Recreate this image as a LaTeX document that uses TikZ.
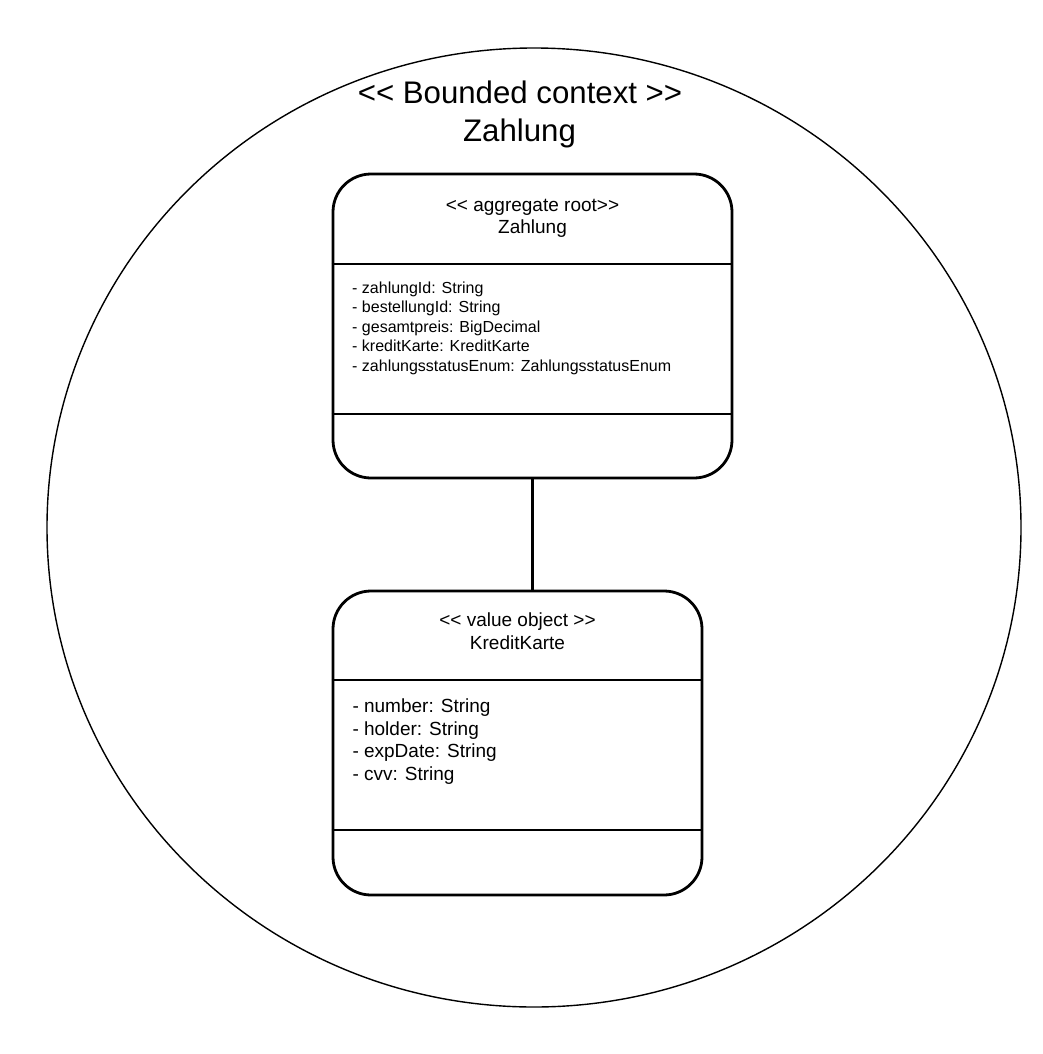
\documentclass[tikz,border=0pt]{standalone}
\usepackage{fontspec}
\setmainfont{Liberation Sans}
\usetikzlibrary{shapes.geometric}
\newcommand\dlt{<\kern0pt<}
\newcommand\dgt{>\kern0pt>}
\begin{document}
\begin{tikzpicture}[x=1pt,y=-1pt,
  ctxshape/.style={draw, ellipse, line width=1.4pt, inner sep=0pt},
  umlbox/.style={draw, line width=2.8pt, rounded corners=38pt, inner sep=0pt, minimum height=304pt},
  divider/.style={line width=2.6pt},
  link/.style={line width=2.6pt},
  bigtitle/.style={anchor=base, inner sep=0pt, font=\fontsize{31.2}{36}\selectfont},
  boxtitle/.style={anchor=base, inner sep=0pt, font=\fontsize{19}{22}\selectfont},
  attrsmall/.style={anchor=base west, inner sep=0pt, font=\fontsize{16}{19}\selectfont},
  attrbig/.style={anchor=base west, inner sep=0pt, font=\fontsize{19}{22}\selectfont}]
\useasboundingbox (0,0) rectangle (1043,1054);

% bounded context
\node[ctxshape, minimum width=974pt, minimum height=959pt] (ctx) at (534,527.5) {};
\node[bigtitle] (ctxt1) at (520,104) {\dlt{} Bounded context \dgt};
\node[bigtitle] (ctxt2) at (519.5,141.5) {Zahlung};

% aggregate root box
\node[umlbox, minimum width=399pt] (zb) at (532.5,326) {};
\draw[divider] (zb.west |- 0,264) -- (zb.east |- 0,264);
\draw[divider] (zb.west |- 0,414) -- (zb.east |- 0,414);
\node[boxtitle] (zt1) at (532.5,211.7) {\dlt{} aggregate root\dgt};
\node[boxtitle] (zt2) at (532.5,233.3) {Zahlung};
\node[attrsmall] (za1) at (352,293.5) {- zahlungId: String};
\node[attrsmall] (za2) at (352,312.9) {- bestellungId: String};
\node[attrsmall] (za3) at (352,332.3) {- gesamtpreis: BigDecimal};
\node[attrsmall] (za4) at (352,351.7) {- kreditKarte: KreditKarte};
\node[attrsmall] (za5) at (352,371.1) {- zahlungsstatusEnum: ZahlungsstatusEnum};

% value object box
\node[umlbox, minimum width=369pt] (kb) at (517.5,743) {};
\draw[divider] (kb.west |- 0,680) -- (kb.east |- 0,680);
\draw[divider] (kb.west |- 0,830) -- (kb.east |- 0,830);
\node[boxtitle] (kt1) at (517.5,626.7) {\dlt{} value object \dgt};
\node[boxtitle] (kt2) at (517.5,649.3) {KreditKarte};
\node[attrbig] (ka1) at (352.3,712.7) {- number: String};
\node[attrbig] (ka2) at (352.3,735.1) {- holder: String};
\node[attrbig] (ka3) at (352.3,757.5) {- expDate: String};
\node[attrbig] (ka4) at (352.3,780) {- cvv: String};

% association
\draw[link] (zb.south) -- (zb.south |- kb.north);
\end{tikzpicture}
\end{document}
